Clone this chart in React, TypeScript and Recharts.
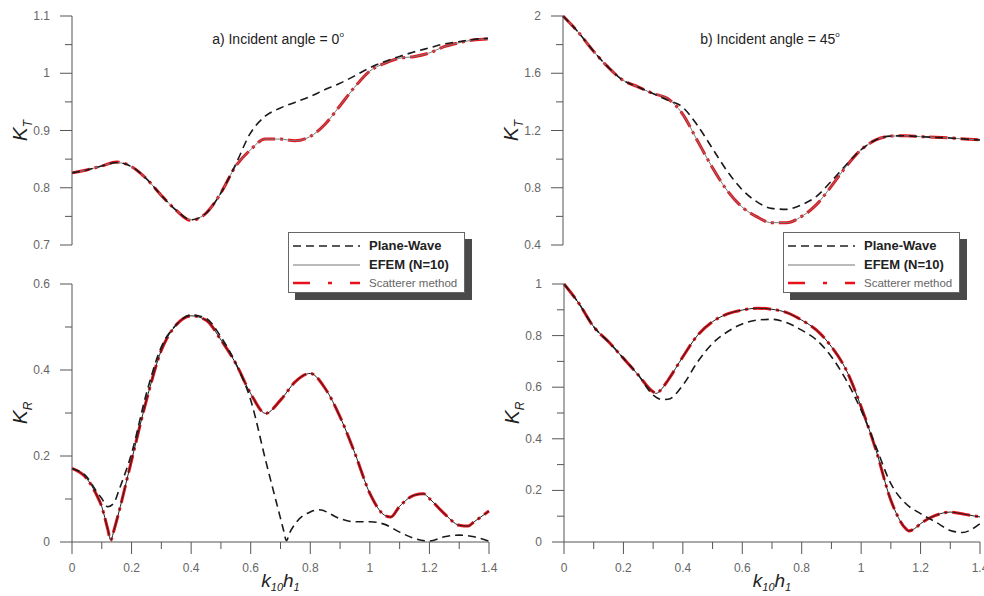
import React from 'react';
import { LineChart, Line, XAxis, YAxis, Legend } from 'recharts';

// ---------- tick labels ----------
const xTicks = [0, 0.1, 0.2, 0.3, 0.4, 0.5, 0.6, 0.7, 0.8, 0.9, 1, 1.1, 1.2, 1.3, 1.4];
const xMajor = [0, 0.2, 0.4, 0.6, 0.8, 1, 1.2, 1.4];
const ktLeftTicks = [0.7, 0.75, 0.8, 0.85, 0.9, 0.95, 1, 1.05, 1.1];
const ktLeftMajor = [0.7, 0.8, 0.9, 1, 1.1];
const ktRightTicks = [0.4, 0.6, 0.8, 1, 1.2, 1.4, 1.6, 1.8, 2];
const ktRightMajor = [0.4, 0.8, 1.2, 1.6, 2];
const krLeftTicks = [0, 0.1, 0.2, 0.3, 0.4, 0.5, 0.6];
const krLeftMajor = [0, 0.2, 0.4, 0.6];
const krRightTicks = [0, 0.1, 0.2, 0.3, 0.4, 0.5, 0.6, 0.7, 0.8, 0.9, 1];
const krRightMajor = [0, 0.2, 0.4, 0.6, 0.8, 1];

const seriesNames = ['Plane-Wave', 'EFEM (N=10)', 'Scatterer method'];

// ---------- a) KT, incident angle 0 ----------
const kt0X = [0, 0.05, 0.1, 0.15, 0.2, 0.25, 0.3, 0.35, 0.4, 0.45, 0.5, 0.55, 0.6, 0.65, 0.7, 0.75, 0.8, 0.85, 0.9, 0.95, 1.0, 1.05, 1.1, 1.15, 1.2, 1.25, 1.3, 1.35, 1.4];
const kt0Plane = [0.826, 0.831, 0.838, 0.844, 0.837, 0.816, 0.787, 0.761, 0.744, 0.755, 0.790, 0.840, 0.895, 0.925, 0.939, 0.949, 0.959, 0.971, 0.982, 0.995, 1.009, 1.020, 1.029, 1.037, 1.044, 1.051, 1.055, 1.059, 1.061];
const kt0Efem = [0.826, 0.831, 0.838, 0.844, 0.837, 0.816, 0.787, 0.761, 0.744, 0.755, 0.790, 0.837, 0.866, 0.885, 0.885, 0.882, 0.889, 0.910, 0.942, 0.975, 1.003, 1.017, 1.026, 1.029, 1.035, 1.046, 1.053, 1.058, 1.060];
const kt0Scat = [0.826, 0.831, 0.838, 0.845, 0.837, 0.816, 0.787, 0.761, 0.743, 0.755, 0.790, 0.837, 0.866, 0.885, 0.885, 0.882, 0.889, 0.910, 0.942, 0.975, 1.003, 1.017, 1.026, 1.029, 1.035, 1.046, 1.053, 1.058, 1.060];

// ---------- b) KT, incident angle 45 ----------
const kt45X = [0, 0.05, 0.1, 0.15, 0.2, 0.25, 0.3, 0.35, 0.4, 0.45, 0.5, 0.55, 0.6, 0.65, 0.7, 0.75, 0.8, 0.85, 0.9, 0.95, 1.0, 1.05, 1.1, 1.15, 1.2, 1.25, 1.3, 1.35, 1.4];
const kt45Plane = [2.0, 1.89, 1.76, 1.646, 1.553, 1.506, 1.46, 1.413, 1.366, 1.24, 1.08, 0.92, 0.79, 0.703, 0.656, 0.649, 0.68, 0.738, 0.843, 0.959, 1.064, 1.134, 1.161, 1.163, 1.157, 1.152, 1.148, 1.14, 1.134];
const kt45Efem = [2.0, 1.89, 1.76, 1.646, 1.553, 1.506, 1.46, 1.425, 1.32, 1.134, 0.947, 0.784, 0.668, 0.598, 0.556, 0.556, 0.598, 0.68, 0.808, 0.947, 1.064, 1.134, 1.161, 1.163, 1.157, 1.152, 1.148, 1.14, 1.134];
const kt45Scat = [2.0, 1.89, 1.76, 1.646, 1.553, 1.506, 1.46, 1.425, 1.32, 1.134, 0.947, 0.784, 0.668, 0.598, 0.556, 0.556, 0.598, 0.68, 0.808, 0.947, 1.064, 1.134, 1.161, 1.163, 1.157, 1.152, 1.148, 1.14, 1.134];

// ---------- a) KR, incident angle 0 ----------
const kr0PlaneX = [0, 0.05, 0.08, 0.1, 0.12, 0.14, 0.16, 0.2, 0.25, 0.3, 0.35, 0.4, 0.45, 0.5, 0.55, 0.6, 0.65, 0.7, 0.71, 0.72, 0.73, 0.75, 0.8, 0.83, 0.9, 0.95, 1.0, 1.05, 1.1, 1.15, 1.2, 1.25, 1.3, 1.35, 1.4];
const kr0Plane = [0.171, 0.151, 0.12, 0.101, 0.082, 0.09, 0.125, 0.206, 0.346, 0.454, 0.505, 0.528, 0.52, 0.477, 0.415, 0.33, 0.19, 0.055, 0.028, 0.003, 0.02, 0.043, 0.07, 0.075, 0.054, 0.047, 0.047, 0.041, 0.023, 0.008, 0.002, 0.012, 0.016, 0.012, 0.002];
const kr0EfemX = [0, 0.05, 0.08, 0.1, 0.12, 0.13, 0.14, 0.15, 0.2, 0.25, 0.3, 0.35, 0.4, 0.45, 0.5, 0.55, 0.6, 0.65, 0.7, 0.75, 0.8, 0.85, 0.9, 0.95, 1.0, 1.05, 1.07, 1.1, 1.15, 1.18, 1.2, 1.25, 1.3, 1.33, 1.35, 1.4];
const kr0Efem = [0.171, 0.147, 0.113, 0.082, 0.03, 0.004, 0.025, 0.05, 0.19, 0.33, 0.446, 0.505, 0.526, 0.516, 0.47, 0.415, 0.345, 0.299, 0.33, 0.373, 0.392, 0.357, 0.291, 0.206, 0.113, 0.062, 0.058, 0.083, 0.109, 0.112, 0.101, 0.066, 0.039, 0.037, 0.047, 0.072];
const kr0Scat = [0.171, 0.147, 0.113, 0.082, 0.03, 0.004, 0.025, 0.05, 0.19, 0.33, 0.446, 0.505, 0.526, 0.516, 0.47, 0.415, 0.345, 0.299, 0.33, 0.373, 0.392, 0.357, 0.291, 0.206, 0.113, 0.062, 0.058, 0.083, 0.109, 0.112, 0.101, 0.066, 0.039, 0.037, 0.047, 0.072];

// ---------- b) KR, incident angle 45 ----------
const kr45PlaneX = [0, 0.05, 0.1, 0.15, 0.2, 0.25, 0.3, 0.33, 0.35, 0.4, 0.45, 0.5, 0.55, 0.6, 0.65, 0.7, 0.75, 0.8, 0.85, 0.9, 0.95, 1.0, 1.05, 1.1, 1.15, 1.2, 1.25, 1.3, 1.34, 1.4];
const kr45Plane = [1.0, 0.925, 0.834, 0.776, 0.712, 0.647, 0.569, 0.552, 0.553, 0.608, 0.699, 0.770, 0.815, 0.845, 0.860, 0.863, 0.850, 0.821, 0.783, 0.718, 0.627, 0.511, 0.369, 0.226, 0.149, 0.110, 0.078, 0.045, 0.037, 0.071];
const kr45EfemX = [0, 0.05, 0.1, 0.15, 0.2, 0.25, 0.3, 0.31, 0.33, 0.35, 0.4, 0.45, 0.5, 0.55, 0.6, 0.65, 0.7, 0.75, 0.8, 0.85, 0.9, 0.95, 1.0, 1.05, 1.1, 1.15, 1.16, 1.18, 1.2, 1.25, 1.3, 1.35, 1.4];
const kr45Efem = [1.0, 0.925, 0.834, 0.776, 0.712, 0.647, 0.582, 0.576, 0.595, 0.627, 0.718, 0.802, 0.854, 0.884, 0.899, 0.906, 0.902, 0.889, 0.860, 0.821, 0.757, 0.666, 0.524, 0.356, 0.162, 0.052, 0.043, 0.052, 0.071, 0.103, 0.116, 0.107, 0.097];
const kr45Scat = [1.0, 0.925, 0.834, 0.776, 0.712, 0.647, 0.582, 0.576, 0.595, 0.627, 0.718, 0.802, 0.854, 0.884, 0.899, 0.906, 0.902, 0.889, 0.860, 0.821, 0.757, 0.666, 0.524, 0.356, 0.162, 0.052, 0.043, 0.052, 0.071, 0.103, 0.116, 0.107, 0.097];

const zip = (xs: number[], ys: number[]) => xs.map((x, i) => ({ x, y: ys[i] }));
const isIn = (arr: number[], v: number) => arr.some((m) => Math.abs(m - v) < 1e-6);
const fmt = (v: number) => String(Math.round(v * 100) / 100);

const FONT = '"Liberation Sans", Arial, sans-serif';
const AXIS = '#555';
const LABEL = '#666';
const RED = '#e8101a';

const makeYTick = (majors: number[]) => (props: any) => {
  const { x, y, payload } = props;
  const major = isIn(majors, payload.value);
  return (
    <g>
      <line x1={x - (major ? 12 : 7)} x2={x} y1={y} y2={y} stroke={AXIS} strokeWidth={1} />
      {major && (
        <text x={x - 22} y={y} dy={4} textAnchor="end" fontSize={12} fill={LABEL} fontFamily={FONT}>
          {fmt(payload.value)}
        </text>
      )}
    </g>
  );
};

const makeXTick = (majors: number[]) => (props: any) => {
  const { x, y, payload } = props;
  const major = isIn(majors, payload.value);
  return (
    <g>
      <line x1={x} x2={x} y1={y} y2={y + (major ? 12 : 7)} stroke={AXIS} strokeWidth={1} />
      {major && (
        <text x={x} y={y + 30} textAnchor="middle" fontSize={12} fill={LABEL} fontFamily={FONT}>
          {fmt(payload.value)}
        </text>
      )}
    </g>
  );
};

const YLabel = (props: any) => {
  const { viewBox, sub } = props;
  const cx = viewBox.x + 27;
  const cy = viewBox.y + viewBox.height / 2;
  return (
    <text transform={`rotate(-90 ${cx} ${cy})`} x={cx} y={cy} textAnchor="middle" fontStyle="italic" fontSize={21} fill="#222" fontFamily={FONT}>
      K<tspan fontSize={12} dy={5}>{sub}</tspan>
    </text>
  );
};

const XLabel = (props: any) => {
  const { viewBox } = props;
  const cx = viewBox.x + viewBox.width / 2;
  const y = viewBox.y + 45;
  return (
    <text x={cx} y={y} textAnchor="middle" fontStyle="italic" fontSize={19} fill="#222" fontFamily={FONT}>
      k<tspan fontSize={11} dy={4}>10</tspan>
      <tspan fontSize={19} dy={-4}>h</tspan>
      <tspan fontSize={11} dy={4}>1</tspan>
    </text>
  );
};

const LegendBox = () => (
  <div style={{ position: 'relative', width: 184, height: 68 }}>
    <div style={{ position: 'absolute', left: 7, top: 7, width: 177, height: 61, background: '#4a4a4a' }} />
    <div style={{ position: 'absolute', left: 0, top: 0, width: 177, height: 61, background: '#fff', border: '1px solid #666', boxSizing: 'border-box' }}>
      <svg width={177} height={61} style={{ position: 'absolute', left: -1, top: -1 }}>
        <line x1={5} x2={72} y1={14} y2={14} stroke="#222" strokeWidth={1.6} strokeDasharray="8 5" />
        <text x={81} y={18} fontSize={13} fontWeight="bold" fill="#222" fontFamily={FONT}>{seriesNames[0]}</text>
        <line x1={5} x2={72} y1={33} y2={33} stroke="#777" strokeWidth={1.2} />
        <text x={81} y={37} fontSize={13} fontWeight="bold" fill="#222" fontFamily={FONT}>{seriesNames[1]}</text>
        <line x1={5} x2={72} y1={51} y2={51} stroke={RED} strokeWidth={2.6} strokeDasharray="17 18 4 18" />
        <text x={81} y={55} fontSize={11.5} fill="#666" fontFamily={FONT}>{seriesNames[2]}</text>
      </svg>
    </div>
  </div>
);

const series = (plane: any[], efem: any[], scat: any[], solidColor: string) => [
  <Line key="s" data={scat} dataKey="y" name={seriesNames[2]} type="monotone" dot={false} stroke={RED} strokeWidth={3} strokeDasharray="18 5 3 5" isAnimationActive={false} />,
  <Line key="e" data={efem} dataKey="y" name={seriesNames[1]} type="monotone" dot={false} stroke={solidColor} strokeWidth={1} isAnimationActive={false} />,
  <Line key="p" data={plane} dataKey="y" name={seriesNames[0]} type="monotone" dot={false} stroke="#1a1a1a" strokeWidth={1.6} strokeDasharray="8 5" isAnimationActive={false} />,
];

const Title = ({ x, text, sup }: { x: number; text: string; sup: string }) => (
  <text x={x} y={44} textAnchor="middle" fontSize={14} fill="#222" fontFamily={FONT}>
    {text}
    <tspan fontSize={8} dy={-7}>{sup}</tspan>
  </text>
);

export default function App() {
  return (
    <div style={{ position: 'absolute', left: 0, top: 0, width: 984, height: 596, overflow: 'hidden', background: '#fff', fontFamily: FONT }}>
      {/* top-left: KT, 0 deg */}
      <div style={{ position: 'absolute', left: 0, top: 0 }}>
        <LineChart width={500} height={260} margin={{ top: 16, right: 12, left: 0, bottom: 15 }}>
          <XAxis hide type="number" dataKey="x" domain={[0, 1.4]} ticks={xTicks} allowDuplicatedCategory={false} />
          <YAxis type="number" domain={[0.7, 1.1]} ticks={ktLeftTicks} width={72} interval={0} axisLine={{ stroke: AXIS }} tickLine={false} tickSize={0} tickMargin={0} tick={makeYTick(ktLeftMajor)} label={<YLabel sub="T" />} />
          {series(zip(kt0X, kt0Plane), zip(kt0X, kt0Efem), zip(kt0X, kt0Scat), '#7a7a7a')}
          <Title x={278} text="a) Incident angle = 0" sup="o" />
        </LineChart>
      </div>
      {/* bottom-left: KR, 0 deg */}
      <div style={{ position: 'absolute', left: 0, top: 225 }}>
        <LineChart width={500} height={371} margin={{ top: 59, right: 11, left: 0, bottom: 0 }}>
          <XAxis type="number" dataKey="x" domain={[0, 1.4]} ticks={xTicks} interval={0} height={54} axisLine={{ stroke: AXIS }} tickLine={false} tickSize={0} tickMargin={0} tick={makeXTick(xMajor)} label={<XLabel />} allowDuplicatedCategory={false} />
          <YAxis type="number" domain={[0, 0.6]} ticks={krLeftTicks} width={72} interval={0} axisLine={{ stroke: AXIS }} tickLine={false} tickSize={0} tickMargin={0} tick={makeYTick(krLeftMajor)} label={<YLabel sub="R" />} />
          {series(zip(kr0PlaneX, kr0Plane), zip(kr0EfemX, kr0Efem), zip(kr0EfemX, kr0Scat), '#222')}
          <Legend layout="horizontal" verticalAlign="middle" align="center" wrapperStyle={{ left: 288, top: 7, width: 186, height: 70 }} content={() => <LegendBox />} />
        </LineChart>
      </div>
      {/* top-right: KT, 45 deg */}
      <div style={{ position: 'absolute', left: 491, top: 0 }}>
        <LineChart width={500} height={260} margin={{ top: 16, right: 11, left: 0, bottom: 15 }}>
          <XAxis hide type="number" dataKey="x" domain={[0, 1.4]} ticks={xTicks} allowDuplicatedCategory={false} />
          <YAxis type="number" domain={[0.4, 2]} ticks={ktRightTicks} width={72} interval={0} axisLine={{ stroke: AXIS }} tickLine={false} tickSize={0} tickMargin={0} tick={makeYTick(ktRightMajor)} label={<YLabel sub="T" />} />
          {series(zip(kt45X, kt45Plane), zip(kt45X, kt45Efem), zip(kt45X, kt45Scat), '#7a7a7a')}
          <Title x={279} text="b) Incident angle = 45" sup="o" />
        </LineChart>
      </div>
      {/* bottom-right: KR, 45 deg */}
      <div style={{ position: 'absolute', left: 492, top: 225 }}>
        <LineChart width={500} height={371} margin={{ top: 59, right: 12, left: 0, bottom: 0 }}>
          <XAxis type="number" dataKey="x" domain={[0, 1.4]} ticks={xTicks} interval={0} height={54} axisLine={{ stroke: AXIS }} tickLine={false} tickSize={0} tickMargin={0} tick={makeXTick(xMajor)} label={<XLabel />} allowDuplicatedCategory={false} />
          <YAxis type="number" domain={[0, 1]} ticks={krRightTicks} width={72} interval={0} axisLine={{ stroke: AXIS }} tickLine={false} tickSize={0} tickMargin={0} tick={makeYTick(krRightMajor)} label={<YLabel sub="R" />} />
          {series(zip(kr45PlaneX, kr45Plane), zip(kr45EfemX, kr45Efem), zip(kr45EfemX, kr45Scat), '#222')}
          <Legend layout="horizontal" verticalAlign="middle" align="center" wrapperStyle={{ left: 291, top: 7, width: 186, height: 70 }} content={() => <LegendBox />} />
        </LineChart>
      </div>
    </div>
  );
}
